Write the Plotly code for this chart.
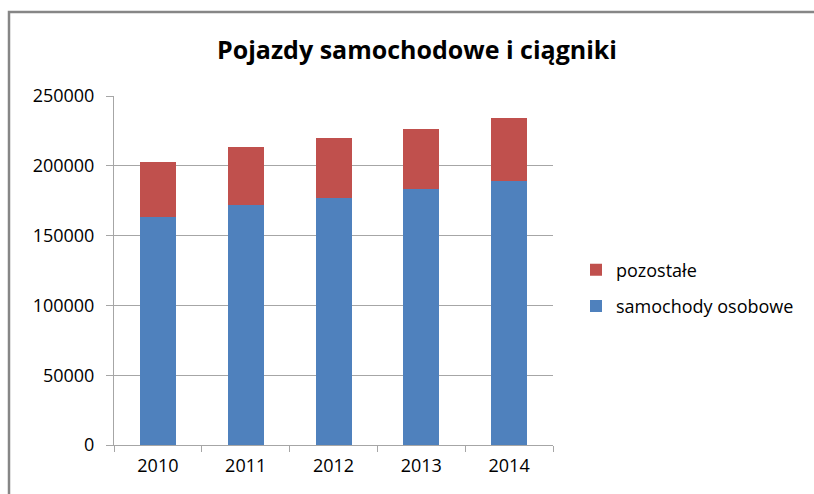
import plotly.graph_objects as go

years = ["2010", "2011", "2012", "2013", "2014"]
samochody_osobowe = [163500, 172000, 177000, 183200, 189300]
pozostale = [39200, 41500, 42700, 42900, 45200]
y_ticks = [0, 50000, 100000, 150000, 200000, 250000]

blue = "#4F81BD"
red = "#C0504D"
font_family = "Open Sans"

fig = go.Figure()
fig.add_trace(go.Bar(x=years, y=samochody_osobowe, name="samochody osobowe",
                     marker=dict(color=blue, line=dict(width=0)),
                     legendgroup="a", legendrank=2))
fig.add_trace(go.Bar(x=years, y=pozostale, name="pozostałe",
                     marker=dict(color=red, line=dict(width=0)),
                     legendgroup="b", legendrank=1))

L, R, T, B = 114, 261, 96, 49
W, H = 814, 494
pw, ph = W - L - R, H - T - B

def px(x):
    return (x - L) / pw

def py(y):
    return (H - B - y) / ph

fig.update_layout(
    width=W, height=H,
    margin=dict(l=L, r=R, t=T, b=B),
    barmode="stack",
    bargap=0.59,
    plot_bgcolor="white",
    paper_bgcolor="white",
    font=dict(family=font_family, size=18, color="#000000"),
    title=dict(text="<b>Pojazdy samochodowe i ciągniki</b>",
               x=417 / W, xanchor="center", y=1 - 50 / H, yanchor="middle",
               font=dict(family=font_family, size=25, color="#000000")),
    legend=dict(traceorder="grouped", tracegroupgap=10,
                x=px(576), xanchor="left", y=py(288), yanchor="middle",
                font=dict(family=font_family, size=18),
                itemwidth=30, bgcolor="rgba(0,0,0,0)"),
    xaxis=dict(type="category", showline=True, linecolor="#A6A6A6", linewidth=1,
               ticks="outside", tickson="boundaries", ticklen=6, tickcolor="#A6A6A6",
               showgrid=False, tickfont=dict(size=18), ticklabelstandoff=4),
    yaxis=dict(range=[0, 250000], tickvals=y_ticks, ticktext=[str(v) for v in y_ticks],
               showline=True, linecolor="#A6A6A6", linewidth=1,
               ticks="outside", ticklen=7, tickcolor="#A6A6A6",
               gridcolor="#A6A6A6", gridwidth=1, zeroline=False,
               tickfont=dict(size=18), ticklabelstandoff=8),
    shapes=[dict(type="rect", xref="paper", yref="paper",
                 x0=px(9), x1=px(840), y0=py(520), y1=py(12),
                 line=dict(color="#868686", width=2.5), fillcolor="rgba(0,0,0,0)",
                 layer="below")],
)

fig.write_html("out.html", config={"displayModeBar": False},
               post_script="document.body.style.margin='0';")
